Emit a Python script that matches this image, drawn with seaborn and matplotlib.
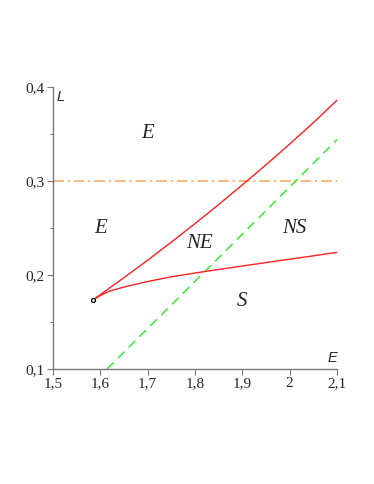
import matplotlib
matplotlib.use("Agg")
import matplotlib.pyplot as plt
import seaborn as sns
import pandas as pd
from matplotlib.ticker import MultipleLocator, FuncFormatter

sns.set_style("white")

# Upper red boundary curve
upper_E = [1.584, 1.65, 1.70, 1.75, 1.80, 1.85, 1.90, 1.95, 2.00, 2.05, 2.10]
upper_L = [0.1734, 0.1972, 0.2158, 0.2350, 0.2547, 0.2750, 0.2959, 0.3173, 0.3393, 0.3620, 0.3860]

# Lower red boundary curve
lower_E = [1.584, 1.60, 1.62, 1.65, 1.70, 1.75, 1.80, 1.85, 1.90, 1.95, 2.00, 2.05, 2.10]
lower_L = [0.1734, 0.1782, 0.1830, 0.1872, 0.1931, 0.1981, 0.2021, 0.2059, 0.2096,
           0.2132, 0.2168, 0.2204, 0.2241]

# Green dashed line
green_E = [1.614, 2.1]
green_L = [0.100, 0.344]

# Orange dash-dot line
orange_E = [1.5, 2.1]
orange_L = [0.3, 0.3]

# Cusp point
point_E = [1.584]
point_L = [0.1734]

# Region labels
region_text = ["E", "E", "NE", "NS", "S"]
region_E = [1.70, 1.60, 1.81, 2.01, 1.90]
region_L = [0.351, 0.249, 0.234, 0.249, 0.172]

x_ticks = [1.5, 1.6, 1.7, 1.8, 1.9, 2.0, 2.1]
y_ticks = [0.1, 0.2, 0.3, 0.4]

fig = plt.figure(figsize=(3.74, 4.84), dpi=100)
ax = fig.add_axes([53/374, 1 - 369/484, 284/374, 282/484])

df_up = pd.DataFrame({"E": upper_E, "L": upper_L})
df_lo = pd.DataFrame({"E": lower_E, "L": lower_L})
df_gr = pd.DataFrame({"E": green_E, "L": green_L})
df_or = pd.DataFrame({"E": orange_E, "L": orange_L})

sns.lineplot(data=df_or, x="E", y="L", ax=ax, color="#f5a65b", lw=1.1,
             linestyle=(0, (7, 2.5, 1.5, 2.5)), sort=False)
sns.lineplot(data=df_gr, x="E", y="L", ax=ax, color="#33ee33", lw=1.1,
             linestyle=(0, (6, 4)), sort=False)
sns.lineplot(data=df_up, x="E", y="L", ax=ax, color="#ff2020", lw=1.0, sort=False)
sns.lineplot(data=df_lo, x="E", y="L", ax=ax, color="#ff2020", lw=1.0, sort=False)
sns.scatterplot(x=point_E, y=point_L, ax=ax, s=8, facecolor="white",
                edgecolor="black", linewidth=0.9, zorder=5)

for t, e, l in zip(region_text, region_E, region_L):
    ax.text(e, l, t, fontsize=15, family="Liberation Serif", style="italic",
            ha="center", va="center")

ax.set_xlim(1.5, 2.1)
ax.set_ylim(0.1, 0.4)
ax.set_xticks(x_ticks)
ax.set_yticks(y_ticks)
ax.yaxis.set_minor_locator(MultipleLocator(0.05))

fmt = FuncFormatter(lambda v, p: ("%g" % round(v, 2)).replace(".", ","))
ax.xaxis.set_major_formatter(fmt)
ax.yaxis.set_major_formatter(fmt)

for sp in ["top", "right"]:
    ax.spines[sp].set_visible(False)
for sp in ["left", "bottom"]:
    ax.spines[sp].set_color("#777777")
    ax.spines[sp].set_linewidth(1.0)

ax.tick_params(which="major", direction="out", length=4, width=0.8, color="#777777",
               labelsize=11, bottom=True, left=True, pad=2)
ax.tick_params(which="minor", direction="out", length=2, width=0.8, color="#777777", left=True)
for lab in ax.get_xticklabels() + ax.get_yticklabels():
    lab.set_family("Liberation Serif")

ax.set_xlabel("")
ax.set_ylabel("")
ax.text(2.1, 0.104, "E", fontsize=10.5, family="Liberation Sans", style="italic",
        ha="right", va="bottom")
ax.text(1.507, 0.397, "L", fontsize=10.5, family="Liberation Sans", style="italic",
        ha="left", va="top")

fig.savefig("out.png", dpi=100)
